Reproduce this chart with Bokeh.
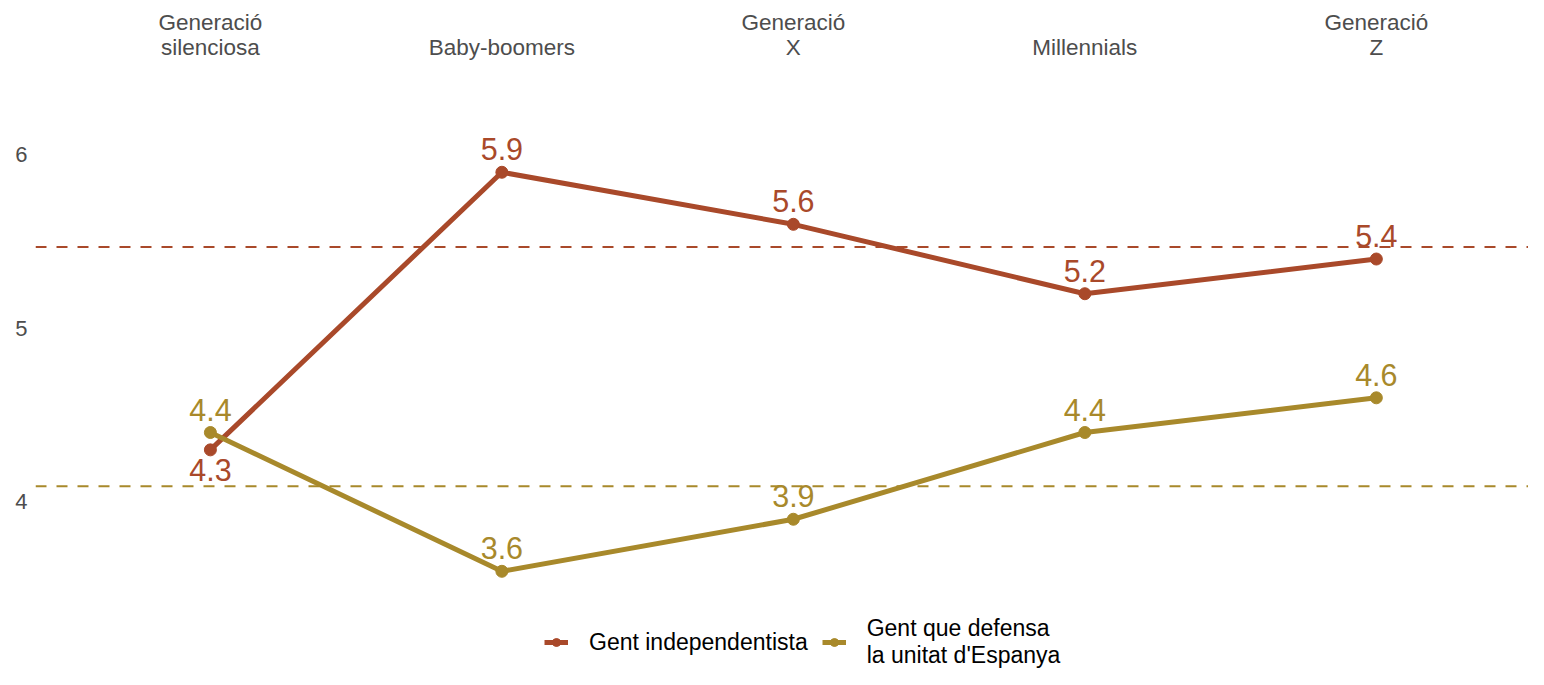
from bokeh.plotting import figure
from bokeh.models import ColumnDataSource, FixedTicker, Span, Legend, LegendItem
from bokeh.embed import file_html
from bokeh.resources import INLINE
from bokeh.core.properties import value

# ---- data ----
generacions = ["Generació\nsilenciosa", "Baby-boomers", "Generació\nX", "Millennials", "Generació\nZ"]
independentista = [4.3, 5.9, 5.6, 5.2, 5.4]
unitat = [4.4, 3.6, 3.9, 4.4, 4.6]
ref_independentista = 5.47
ref_unitat = 4.09
series_names = ["Gent independentista", "Gent que defensa\nla unitat d'Espanya"]

RED = "#A9492A"
GOLD = "#A8892B"
GREY = "#4D4D4D"
FONT = "Liberation Sans"

xs = list(range(len(generacions)))

p = figure(width=1528, height=669, output_backend="svg", toolbar_location=None,
           x_range=(-0.6, 4.522), y_range=(3.034, 6.429), x_axis_location="above",
           min_border_left=35, min_border_right=0, min_border_top=80, min_border_bottom=0)
p.outline_line_color = None
p.background_fill_color = "white"
p.border_fill_color = "white"
p.xgrid.visible = False
p.ygrid.visible = False

# axes
xa = p.xaxis[0]
xa.ticker = FixedTicker(ticks=xs)
xa.major_label_overrides = {i: g for i, g in enumerate(generacions)}
xa.axis_line_color = None
xa.major_tick_line_color = None
xa.minor_tick_line_color = None
xa.major_tick_out = 0
xa.major_tick_in = 0
xa.major_label_standoff = 21
xa.major_label_text_font = FONT
xa.major_label_text_font_size = "22.5px"
xa.major_label_text_line_height = 1.0
xa.major_label_text_color = GREY

ya = p.yaxis[0]
ya.ticker = FixedTicker(ticks=[4, 5, 6])
ya.axis_line_color = None
ya.major_tick_line_color = None
ya.minor_tick_line_color = None
ya.major_tick_out = 0
ya.major_tick_in = 0
ya.major_label_standoff = 8
ya.major_label_text_font = FONT
ya.major_label_text_font_size = "22px"
ya.major_label_text_color = GREY

# reference lines
p.add_layout(Span(location=ref_independentista, dimension="width", line_color=RED,
                  line_dash="11 10", line_width=2))
p.add_layout(Span(location=ref_unitat, dimension="width", line_color=GOLD,
                  line_dash="11 10", line_width=2))

# series (labels of the first series go below where it lies under the second one)
renderers = []
for k, (vals, other, col) in enumerate([(independentista, unitat, RED), (unitat, independentista, GOLD)]):
    below = [(k == 0 and v < o) for v, o in zip(vals, other)]
    src = ColumnDataSource(dict(
        x=xs, y=vals,
        lab=[f"{v:.1f}" for v in vals],
        yoff=[20 if b else -23 for b in below],
    ))
    lr = p.line("x", "y", source=src, line_color=col, line_width=5)
    sr = p.scatter("x", "y", source=src, size=12, fill_color=col, line_color=col)
    p.text("x", "y", text="lab", source=src, text_color=col, text_align="center",
           text_baseline="alphabetic", y_offset="yoff",
           text_font=value(FONT), text_font_size="30.5px")
    renderers.append([lr, sr])

legend = Legend(items=[LegendItem(label=series_names[0], renderers=renderers[0]),
                       LegendItem(label=series_names[1], renderers=renderers[1])],
                orientation="horizontal", location=(509, 0),
                border_line_color=None, background_fill_alpha=0,
                label_text_font=FONT, label_text_font_size="23px",
                label_text_line_height=1.0,
                label_text_color="black", glyph_width=24, glyph_height=20,
                label_standoff=21, spacing=14, padding=0, margin=0)
p.add_layout(legend)

open("out.html", "w").write(file_html(p, INLINE))
